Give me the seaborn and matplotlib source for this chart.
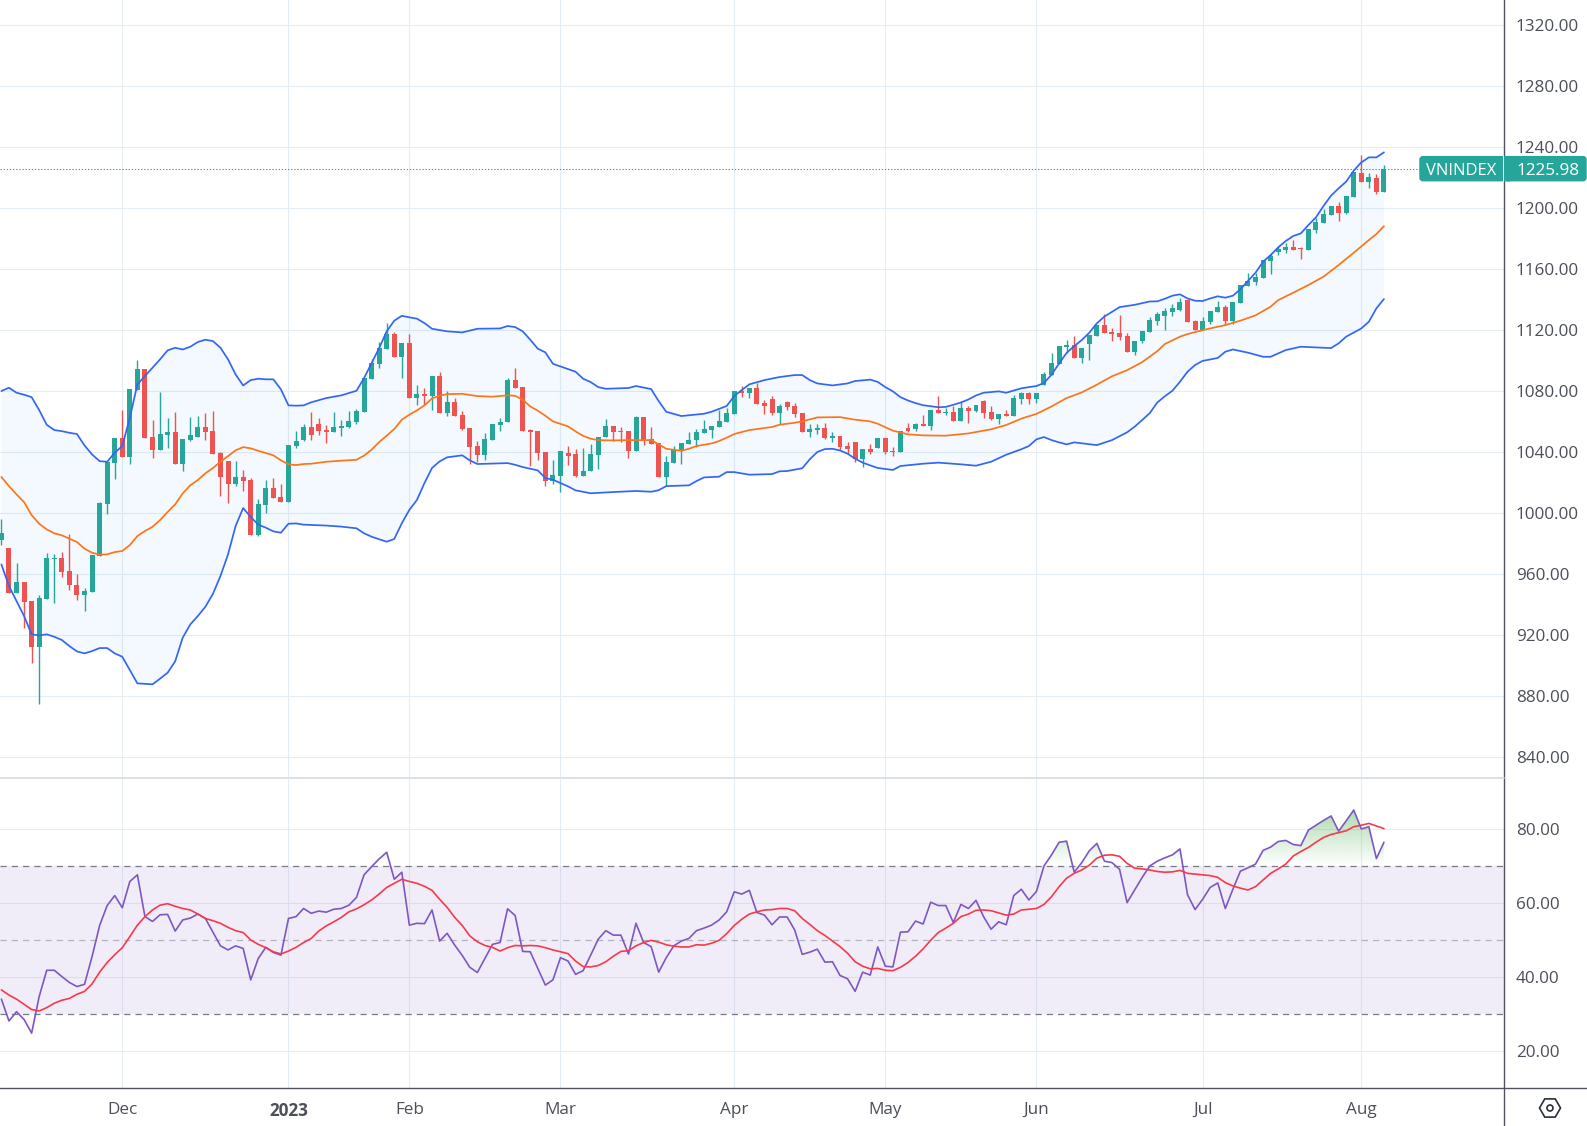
import numpy as np
import matplotlib
matplotlib.use("Agg")
import matplotlib.pyplot as plt
from matplotlib.lines import Line2D
from matplotlib.patches import FancyBboxPatch, RegularPolygon, Circle, Rectangle
from matplotlib.path import Path
import seaborn as sns

# ---------- OHLC, one row of ten bars per line ----------
opens = [
982,976.7,947.2,954.8,942,912,943.2,969.5,970.2,961.6,
953,945.9,947.8,971.5,1005.6,1032.5,1048.9,1036.5,1080.4,1094.2,
1049.6,1041.1,1050.9,1052.9,1031.9,1047.6,1049.6,1056.2,1053.5,1039.1,
1033.8,1018.7,1023.3,1021.4,985.3,1005,1016.1,1010.2,1006.9,1043.7,
1048.1,1056.6,1058.6,1054.6,1053.3,1055.9,1056.6,1059.9,1066.4,1088.1,
1097.9,1107.8,1117.6,1102.5,1111.7,1075.6,1078.2,1076.9,1090.1,1065.8,
1073,1064.5,1055.9,1044.1,1038.2,1048.1,1057.9,1059.9,1087.4,1082.8,
1054.6,1054,1040.2,1021.1,1024.4,1039.5,1038.9,1024.4,1027.5,1037.8,
1049.6,1056.8,1053.5,1053.5,1040.6,1062.7,1048.3,1045.6,1023.3,1032.5,
1040.4,1045,1047.6,1052.2,1054.2,1056.2,1059.4,1064.7,1079.8,1078.5,
1081.8,1071.9,1074.5,1065.3,1072.6,1069.9,1065.3,1052.9,1054.2,1055.5,
1048.9,1050.2,1043.7,1046.3,1035.1,1041.7,1042.5,1049.1,1040.8,1039.9,
1055.8,1055.1,1058.4,1057.1,1067.7,1065.7,1066.3,1060.4,1069,1067,
1073.6,1066.3,1061.7,1065,1063.7,1074.9,1078.9,1074.9,1084.2,1090.8,
1098,1108.7,1110,1101.4,1110.6,1115.9,1123.2,1118.6,1117.9,1115.9,
1105.4,1112.6,1118.6,1125.8,1129.2,1131.9,1133.2,1139.7,1126,1120,
1125.3,1131.9,1135.2,1126,1137.8,1148.9,1151.6,1154.2,1165.4,1171.3,
1172.6,1174.5,1173.9,1172.6,1185.7,1190.3,1195.6,1201.5,1196.9,1207.4,
1223.1,1217.2,1219.9,1210.7]
highs = [
995.8,977.2,967.3,954.8,942,945.9,973.4,972.8,974.1,985.9,
959.7,950.5,972.1,1007,1033.2,1048.9,1067.3,1081.1,1100.1,1094.2,
1060.7,1079.1,1062.1,1066,1048.3,1062.7,1063.4,1065.3,1066.7,1039.7,
1033.8,1033.8,1027.9,1022.7,1008.9,1021.4,1022.7,1018.7,1044.3,1053.5,
1058.6,1066.4,1062.5,1057.9,1066.4,1061.2,1067.1,1068.4,1088.8,1101.2,
1112.4,1124.9,1118.9,1111.7,1117.6,1084.2,1082.2,1090.1,1092.7,1080.2,
1075.6,1067.1,1055.9,1047.4,1052.6,1058.6,1062.5,1088.8,1095.3,1082.8,
1055.3,1054,1040.2,1034.9,1040.8,1044.1,1042.1,1042.8,1045,1050,
1061.4,1056.8,1056.2,1053.5,1063.4,1062.7,1056.2,1045.6,1037.1,1043.7,
1045.6,1052.9,1054.8,1060.7,1056.8,1067.3,1068.6,1079.8,1083.1,1081.8,
1085,1073.9,1076.5,1071.2,1073.2,1071.9,1065.3,1058.1,1058.1,1058.8,
1052.9,1050.2,1046.3,1046.3,1041.7,1045,1049.1,1049.1,1043.2,1053.8,
1059.1,1059.1,1064.4,1067.7,1076.9,1069,1070.3,1073.6,1070.3,1071,
1074.3,1070.3,1065,1067.7,1077.6,1079.6,1079.6,1078.9,1092.8,1104.7,
1109.3,1113.3,1115.9,1108,1116.6,1123.2,1130.5,1121.2,1129.8,1117.9,
1112.6,1119.2,1128.5,1131.8,1134.5,1137.1,1141,1140.4,1126.6,1128.6,
1132.5,1139.1,1136.5,1138.4,1149.6,1157.5,1157.5,1166,1170,1175.2,
1177.2,1179.1,1174.5,1186.4,1193.6,1199.5,1201.5,1204.1,1208,1223.8,
1235,1223.1,1222.5,1228.4]
lows = [
978.7,947.2,947.2,924.2,901.2,874.5,943.2,940.6,957.7,949.2,
942.6,935.4,947.8,971.5,999,1022,1036.5,1031.9,1080.4,1048.9,
1035.8,1041.1,1042.4,1031.9,1027.3,1047,1049.6,1047.6,1038.4,1010.9,
1006.3,1017.4,1014.1,985.3,984.6,999.7,1009.5,1006.9,1006.9,1042.4,
1047.4,1048.1,1051.3,1046,1053.3,1050.7,1055.9,1058.6,1066.4,1088.1,
1095.3,1107.8,1102.5,1088.8,1075.6,1071,1071,1067.7,1065.8,1063.8,
1063.8,1054.6,1032.3,1033.6,1034.9,1048.1,1054,1059.9,1082.2,1054,
1031,1034.9,1017.9,1019.2,1013.9,1031.7,1023.8,1024.4,1027.5,1028.6,
1049.6,1047.2,1046.5,1035.8,1040.6,1044.3,1045,1023.3,1018,1032.5,
1031.9,1045,1043,1052.2,1048.9,1056.2,1059.4,1064.7,1075.8,1075.2,
1071.2,1064.7,1064,1058.1,1067.3,1062.7,1052.9,1049.6,1051.6,1048.3,
1046.3,1041,1038.4,1033.2,1029.9,1038.4,1042.5,1038.6,1037.2,1039.9,
1053.1,1053.8,1057.1,1054.4,1065.7,1064.4,1060.4,1060.4,1059.1,1066.3,
1062.4,1061,1058.4,1063.7,1063.7,1071.6,1071.6,1072.3,1084.2,1090.8,
1098,1105.3,1101.4,1098.1,1100.7,1115.9,1117.9,1112.6,1113.3,1105.4,
1103.4,1111.3,1118.6,1123.2,1120,1129.2,1132.5,1125.3,1120,1120,
1124,1131.9,1123.3,1124,1137.8,1148.9,1149.6,1154.2,1156.8,1169.3,
1170.6,1172.6,1166.7,1172.6,1183.7,1190.3,1195.6,1191.6,1196.2,1207.4,
1217.2,1213.3,1209.4,1210.7]
closes = [
986.6,947.2,954.8,941.3,912,943.9,970.2,970.2,961,952.4,
945.9,948.5,972.1,1006.3,1033.2,1048.9,1036.5,1081.1,1094.2,1048.9,
1041.1,1051.6,1052.9,1031.9,1048.3,1050.9,1056.2,1052.9,1038.4,1023.3,
1018.7,1023.3,1020.7,985.3,1005.6,1016.1,1009.5,1006.9,1044.3,1047,
1056.6,1051.3,1054,1053.3,1056.6,1057.2,1060.5,1067.1,1088.8,1098.6,
1108.4,1117.6,1102.5,1111.7,1075.6,1078.2,1076.9,1090.1,1065.8,1073,
1063.8,1055.3,1043.5,1038.2,1048.7,1058.6,1059.9,1087.4,1082.2,1054,
1053.3,1039.5,1021.1,1025.1,1040.8,1037.6,1024.4,1027.7,1038.4,1050,
1056.8,1052.9,1052.9,1040.6,1062.7,1047.8,1045,1023.3,1033.2,1041.1,
1045.6,1047.6,1052.9,1054.8,1056.8,1060.1,1065.3,1079.8,1078.5,1081.8,
1071.2,1069.9,1065.3,1069.9,1069.3,1064.7,1052.9,1054.8,1055.5,1048.9,
1050.2,1043,1041.7,1035.1,1041.7,1039.7,1049.1,1039.9,1039.9,1053.8,
1053.8,1058.4,1057.1,1067.7,1065.7,1066.3,1060.4,1069,1067,1071,
1065.7,1061.7,1065,1063.7,1075.6,1078.9,1074.9,1078.9,1091.5,1098.7,
1109.3,1110,1101.4,1108,1116.6,1123.2,1117.9,1117.2,1115.3,1105.4,
1112.6,1119.2,1126.5,1130.5,1132.5,1134.5,1138.4,1125.3,1120,1126,
1132.5,1135.2,1126,1138.4,1149.6,1152.2,1154.8,1166,1168.6,1173.2,
1174.5,1172.6,1173.2,1186.4,1191,1196.2,1201.5,1196.9,1208,1223.8,
1217.2,1220.5,1210.7,1225.98]

# ---------- Bollinger bands: vertices (bar number, price) ----------
upper_bar = [0,1,2,3,4,5,6,7,8,9,10,11,12,13,14,15,16,17,18,19,20,21,22,23,24,25,26,27,28,29,30,31,32,33,34,35,36,37,38,39,40,
41,43,45,47,48,49,50,51,52,53,54,55,56,57,59,61,63,66,67,68,69,70,71,72,73,76,77,78,79,80,83,84,86,87,88,90,93,94,96,97,98,99,
101,103,105,106,107,108,110,112,113,115,116,117,118,119,120,121,122,124,125,126,127,128,129,130,132,133,135,136,137,138,139,140,
141,142,143,144,145,146,148,150,152,153,154,155,156,157,158,159,160,161,162,163,164,165,166,167,168,169,170,171,172,173,174,175,
176,177,178,179,180,181,182,183]
upper_val = [1080,1082.2,1078.9,1077.6,1076,1067.5,1057.9,1054.4,1053.7,1052.6,1051.8,1044.3,1038.4,1034,1033.6,1039.5,1043.9,1062.5,1084.4,1089.8,1095.3,1100.8,1106.7,1108.4,1107.3,1109.1,1112.2,1113.7,1112.8,1108.4,1100.8,1090.9,1083.7,1087.2,1088.1,1087.7,1087.7,1081.1,1070.6,1070.4,1070.6,
1072.6,1075.4,1077.2,1080.2,1088.5,1098.4,1108.2,1119.2,1126.2,1129.4,1128.4,1127.5,1124.6,1120.9,1119.2,1118.5,1120.9,1121.1,1122.7,1122,1119.2,1113.7,1107.8,1105.4,1097.9,1092.7,1088.1,1085.9,1082.6,1081.5,1082,1083.3,1081.3,1073.4,1066.4,1063.6,1065.1,1066.4,1070.2,1076.7,1080.7,1084.4,
1087.2,1089.2,1090.5,1090.5,1087.2,1085,1083.7,1085,1086.6,1087.5,1086,1082.6,1079.8,1076,1073.8,1072.1,1070.7,1069.4,1069.6,1071,1072.5,1074.5,1077.1,1078.9,1079.8,1078.9,1081.8,1082.6,1083.3,1085.3,1090.8,1098.1,
1105.1,1109.5,1113.5,1118.3,1124.5,1128.9,1135.1,1136.6,1138.8,1138.9,1140.6,1142.6,1143.5,1140.8,1139.3,1139.1,1140.8,1142.2,1141.3,1142.6,1146.8,1152.2,1157.7,1164.9,1169.3,1174.3,1178.5,1181.8,1183.5,1189,1194,1201.5,
1208.3,1213.1,1217.5,1224.7,1230.1,1233.4,1233.4,1236.7]

middle_bar = [0,1,2,3,4,5,6,7,8,9,10,11,12,13,14,15,16,17,18,19,20,21,22,23,24,25,26,27,28,29,30,31,32,33,34,35,36,37,38,39,40,
41,43,45,47,48,49,50,51,52,53,54,55,56,57,58,59,61,63,65,67,68,69,70,71,72,73,75,76,77,78,79,81,83,86,87,88,90,91,92,94,95,96,97,99,
102,103,105,106,108,111,113,115,116,118,120,122,125,128,131,133,135,137,139,141,143,145,147,149,151,153,154,156,157,159,162,164,166,168,169,171,173,175,177,179,181,182,183]
middle_val = [1023.6,1017.6,1012.2,1007.1,998.6,992.9,989.2,986.6,985.3,983.1,980.9,976.5,973.9,972.6,972.8,974.3,975,978.9,984.8,988.1,990.9,995.3,1000.6,1005.6,1012.8,1018.1,1021.6,1026,1029.5,1033.6,1037.3,1041.1,1043.2,1042.4,1040.8,1039.3,1037.8,1034.5,1031.9,1031.4,1032.1,
1032.3,1033.6,1034.3,1034.9,1037.6,1041.5,1046.5,1050.7,1055.1,1061.2,1064.5,1067.3,1070.6,1075.2,1076.9,1078,1078.2,1076.7,1076.3,1077.2,1076.9,1074.3,1069.9,1067.1,1063.8,1060.1,1056.8,1053.5,1050.6,1048.7,1047.8,1047.6,1047.8,1047.8,1045,1042.1,1040.8,1042.1,1043.9,1045.6,1047.2,1049.4,1051.8,1054.4,
1056.4,1057.9,1059.2,1060.1,1062.7,1062.9,1061.2,1060.1,1058.5,1054,1051.6,1050.9,1050.7,1052.2,1054.9,1057.7,1061.9,1065,1069.9,1075.4,1079.1,1084.2,1089.7,1093.7,1099,1106.2,1110.9,1115.7,1117.4,1120,1123.3,1126.2,1129.7,1135.4,1139.7,1144.6,1149.6,1155.1,1162.7,1170.8,1179.1,1183.1,1188.3]

lower_bar = [0,1,2,3,4,5,6,7,8,9,10,11,12,13,14,15,16,17,18,20,21,22,23,24,25,26,27,28,29,30,31,32,33,34,35,36,37,38,39,40,
43,45,47,48,49,50,51,52,53,54,55,56,57,58,59,61,62,63,67,68,69,71,72,73,75,76,78,81,84,86,87,88,91,92,93,95,96,97,99,102,103,104,106,107,108,109,110,111,112,113,114,115,
116,118,119,122,124,127,129,131,133,135,136,137,138,139,140,141,142,145,147,149,150,151,152,153,154,155,156,157,158,159,161,162,163,165,167,168,170,172,176,177,178,180,181,182,183]
lower_val = [966.2,952,942.2,932.3,920.3,919.6,920.3,918.7,916.6,912.6,909.1,907.8,909.3,911.3,911.3,907.8,905.6,896.9,888.1,887.5,891.2,895.1,902.6,918.1,926.8,932.3,938.4,946.9,958.6,972.8,991.4,1003.2,997.3,992.3,990.3,987.9,987,992.9,993.1,992.3,
991.7,991,989.9,986.6,984.4,982.7,981.1,982.9,993.2,1002,1008.5,1019.6,1029.5,1033.8,1036.5,1037.8,1034.5,1032.1,1032.7,1031.6,1030.1,1027.9,1022.9,1021.8,1017.4,1014.8,1012.9,1013.7,1014.4,1013.9,1014.9,1017.6,1018.1,1020.9,1023.3,1023.8,1026.8,1026.8,1025.1,1025.5,1027.3,1027.5,1029.3,1035.2,1040,1041.9,1042.1,1041,1038.9,1035.6,1033,1031.2,
1029.5,1028.2,1030.8,1032.3,1033,1031.9,1031,1033.6,1038.2,1041.8,1043.9,1048.3,1049.8,1047.8,1046.3,1045,1046.3,1044.5,1047.8,1052.9,1056.6,1061,1065.5,1072.5,1076.6,1080.2,1086.1,1092.7,1097.1,1099.8,1101.7,1105.8,1107.3,1105.2,1102.5,1102.5,1106.9,1109.1,1108.2,1111.3,1115.7,1121.1,1125.5,1134.3,1140.4]

# ---------- RSI and its moving average, one value per bar ----------
rsi = [
34.1,28.2,30.7,28.6,24.9,34.8,41.9,41.9,40.2,38.6,
37.5,38.1,45.6,54,59.4,62.1,58.8,65.9,67.7,56.4,
55.1,56.9,57,52.5,55.5,56,57.1,55.9,52.2,48.5,
47.4,48.5,47.8,39.3,45.1,48.1,46.7,46,55.9,56.4,
58.6,57.3,57.9,57.6,58.4,58.6,59.5,61.6,67.7,69.9,
72,73.8,66.5,68.4,54.1,54.6,54.5,58.2,49.8,51.9,
48.7,45.9,42.7,41.3,45.1,48.9,49.4,58.5,56.7,47,
46.9,42.4,37.9,39.3,45.3,44.4,40.8,41.8,46,50.3,
52.6,51.4,51.4,46.3,54.6,49.4,48.3,41.4,45.3,48.5,
49.8,50.5,52.6,53.3,54.1,55.5,57.7,63.1,62.5,63.5,
57.5,56.8,54.2,56.3,56.3,52.8,46.2,46.8,47.6,44.1,
44.2,40.5,39.6,36.2,41.4,40.6,48.2,43,42.8,52.2,
52.3,55.2,54.4,60.3,59.4,59.4,54.8,59.7,58.6,60.8,
56.4,53,55,54.2,62.1,63.8,60.9,63.2,70.1,73.1,
76.5,76.8,68.4,71,74.2,76.2,71.4,71,69.2,60.2,
63.6,67,70.1,71.4,72.3,73.1,74.7,62.3,58.3,61.1,
64.3,65.5,58.6,63.8,68.7,69.6,70.6,74.3,75.2,76.7,
77,75.9,75.6,79.8,81.1,82.4,83.6,79.5,82.3,85.2,
80.1,80.7,72.1,76.5]
rsi_ma = [
36.6,35.2,34.1,32.7,31.3,30.9,31.8,33,33.8,34.3,
35.4,36.2,38.2,41.4,44,46.1,48,51,54.1,56.4,
58.2,59.5,59.9,59.2,58.6,58.2,57.1,55.9,55.3,54.6,
53.5,52.6,52.1,50.1,48.9,48,46.9,46.3,47.1,48.1,
49.4,50.5,52.5,53.9,55,56.2,57.7,58.5,59.6,60.9,
62.5,64.3,65.4,66.5,65.9,65.4,64.6,63.5,61.1,58.9,
56.2,54,51.2,49.6,48.6,48.1,47.1,48,48.6,48.5,
48.6,48.5,48,47.4,46.9,46.4,44.4,42.9,42.8,43.2,
44.2,45.7,47,47.2,48.5,49.4,50,49.5,48.8,48.4,
48.2,48.2,48.8,48.7,49.2,50,51.8,54,55.7,57.1,
57.7,58.2,58.3,58.6,58.6,58,55.9,54.3,52.6,51.3,
49.8,48.3,46.5,44.2,43,42.3,42.4,41.9,41.8,42.7,
44,45.7,47.7,50,52.1,53.3,54.6,56.4,57.1,58.1,
58.2,58,57.4,56.8,57.1,58.2,58.4,58.6,59.7,61.8,
64.5,66.8,68.1,69,70.3,72.2,73,73.1,72.7,70.8,
69.5,69.3,69,68.6,68.4,68.5,68.9,68.1,67.9,67.7,
67.5,67,65.6,64.7,64.1,63.6,64.5,66.3,68.1,69.3,
70.6,72.8,74,75.1,76.5,77.8,78.6,79.1,79.6,80.7,
81.1,81.6,80.9,80.2]

# ---------- Axis labels ----------
month_bars = [16, 38, 54, 74, 97, 117, 137, 159, 180]
month_labels = ["Dec", "2023", "Feb", "Mar", "Apr", "May", "Jun", "Jul", "Aug"]
price_ticks = [840, 880, 920, 960, 1000, 1040, 1080, 1120, 1160, 1200, 1240, 1280, 1320]
rsi_ticks = [20, 40, 60, 80]
symbol = "VNINDEX"

# ---------- Style ----------
UP, DOWN = "#26a69a", "#ef5350"
GRID = "#e4edf3"
TXT = "#4c4f5a"
AXIS = "#50535e"
FONT = ["Open Sans", "DejaVu Sans"]
sns.set_theme(style="white")
plt.rcParams["font.family"] = FONT
plt.rcParams["font.size"] = 12.3

W, H = 1587, 1126
fig = plt.figure(figsize=(W / 100, H / 100), dpi=100, facecolor="white")
AX_R = 1504.0
ax = fig.add_axes([0, 1 - 778 / H, AX_R / W, 778 / H])
rx = fig.add_axes([0, 1 - 1088 / H, AX_R / W, (1088 - 779) / H], sharex=ax)

bars = np.arange(len(closes))
o, h, l, c = map(np.array, (opens, highs, lows, closes))
colors = np.where(c >= o, UP, DOWN)

for a in (ax, rx):
    a.set_facecolor("white")
    a.grid(True, color=GRID, linewidth=0.8, zorder=0)
    a.set_axisbelow(True)
    a.yaxis.tick_right()
    a.tick_params(axis="both", length=0, labelsize=12.3, labelcolor=TXT, pad=8.5)
    for s in a.spines.values():
        s.set_visible(False)

# Bollinger fill without resampling either edge
ax.fill(np.r_[upper_bar, lower_bar[::-1]], np.r_[upper_val, lower_val[::-1]],
        color="#2196f3", alpha=0.05, linewidth=0, zorder=1)

# Candles
ax.vlines(bars, l, h, colors=colors, linewidth=1.0, zorder=3)
ax.bar(bars, np.abs(c - o), bottom=np.minimum(o, c), width=0.66, color=colors, linewidth=0, zorder=3)

# Bands
line_kw = dict(ax=ax, estimator=None, sort=False, legend=False, zorder=4)
sns.lineplot(x=upper_bar, y=upper_val, color="#3366f6", linewidth=1.25, **line_kw)
sns.lineplot(x=lower_bar, y=lower_val, color="#3366f6", linewidth=1.25, **line_kw)
sns.lineplot(x=middle_bar, y=middle_val, color="#ff7417", linewidth=1.25, **line_kw)

# Last-price line
ax.axhline(closes[-1], color=UP, linewidth=0.75, linestyle=(0, (1.3, 1.7)), zorder=2)

# RSI pane
rsi_arr = np.array(rsi)
rx.axhspan(30, 70, color="#7e57c2", alpha=0.105, linewidth=0, zorder=1)
rx.axhline(70, color="#787b86", linewidth=0.9, linestyle=(0, (5, 4)), zorder=2)
rx.axhline(50, color="#787b86", linewidth=0.9, alpha=0.5, linestyle=(0, (5, 4)), zorder=2)
rx.axhline(30, color="#787b86", linewidth=0.9, linestyle=(0, (5, 4)), zorder=2)


def gradient(where, base, far, rgb, amax):
    pc = rx.fill_between(bars, base, rsi_arr, where=where, interpolate=True, alpha=0, linewidth=0)
    path = Path.make_compound_path(*pc.get_paths())
    n = 64
    img = np.zeros((n, 1, 4))
    img[:, 0, :3] = matplotlib.colors.to_rgb(rgb)
    img[:, 0, 3] = np.linspace(0, amax, n)
    lo, hi = sorted((base, far))
    im = rx.imshow(img if far > base else img[::-1], extent=(0, len(bars) - 1, lo, hi),
                   origin="lower", aspect="auto", zorder=2.5, interpolation="bilinear")
    im.set_clip_path(path, rx.transData)


gradient(rsi_arr >= 70, 70, 85, "#4caf50", 0.45)
gradient(rsi_arr <= 30, 30, 0, "#f23645", 0.5)

rsi_kw = dict(ax=rx, estimator=None, sort=False, legend=False, zorder=4)
sns.lineplot(x=bars, y=rsi, color="#7e57c2", linewidth=1.2, **rsi_kw)
sns.lineplot(x=bars, y=rsi_ma, color="#f7394b", linewidth=1.2, **rsi_kw)

# Scales
PX = 7.555
ax.set_xlim(-1.4 / PX, (AX_R - 1.4) / PX)
ax.set_ylim(826.0, 1336.7)
rx.set_ylim(10.08, 93.6)
ax.set_xticks(month_bars)
ax.tick_params(axis="x", labelbottom=False)
rx.set_xticks(month_bars, month_labels)
rx.tick_params(axis="x", pad=10.3)
for lab in rx.get_xticklabels():
    lab.set_color(TXT)
    if lab.get_text() == "2023":
        lab.set_fontweight("bold")
ax.set_yticks(price_ticks, [f"{v:.2f}" for v in price_ticks])
rx.set_yticks(rsi_ticks, [f"{v:.2f}" for v in rsi_ticks])
ax.set_xlabel(""); ax.set_ylabel(""); rx.set_xlabel(""); rx.set_ylabel("")

# Frame, symbol tag and icon on an overlay measured in figure pixels
ov = fig.add_axes([0, 0, 1, 1], zorder=10)
ov.set_xlim(0, W); ov.set_ylim(H, 0); ov.axis("off"); ov.patch.set_alpha(0)
ov.add_line(Line2D([AX_R, AX_R], [0, H], color=AXIS, linewidth=1.0))
ov.add_line(Line2D([0, W], [1088, 1088], color=AXIS, linewidth=1.0))
ov.add_line(Line2D([0, AX_R], [778, 778], color="#d6dbe3", linewidth=1.2))

tag_y = H - ax.transData.transform((0, closes[-1]))[1]
tag_h = 26
ov.add_patch(FancyBboxPatch((1421, tag_y - tag_h / 2 + 2), 90, tag_h - 4,
                            boxstyle="round,pad=0,rounding_size=2", mutation_aspect=1,
                            facecolor=UP, edgecolor=UP, linewidth=2.5, zorder=2))
ov.add_patch(Rectangle((1503.3, tag_y - tag_h / 2), 0.9, tag_h, facecolor="white", edgecolor="none", zorder=3))
ov.add_patch(FancyBboxPatch((1506, tag_y - tag_h / 2 + 2), 79, tag_h - 4,
                            boxstyle="round,pad=0,rounding_size=2", mutation_aspect=1,
                            facecolor=UP, edgecolor=UP, linewidth=2.5, zorder=2))
ov.text(1461.5, tag_y, symbol, color="white", fontsize=11.9, ha="center", va="center_baseline", zorder=4)
ov.text(1516.7, tag_y, f"{closes[-1]:.2f}", color="white", fontsize=12.3, ha="left", va="center_baseline", zorder=4)
ov.add_patch(RegularPolygon((1550, 1108), 6, radius=10.5, orientation=np.pi / 2,
                            facecolor="none", edgecolor="#2a2e39", linewidth=1.2))
ov.add_patch(Circle((1550, 1108), 3, facecolor="none", edgecolor="#2a2e39", linewidth=1.2))

fig.savefig("out.png", dpi=100, facecolor="white")
